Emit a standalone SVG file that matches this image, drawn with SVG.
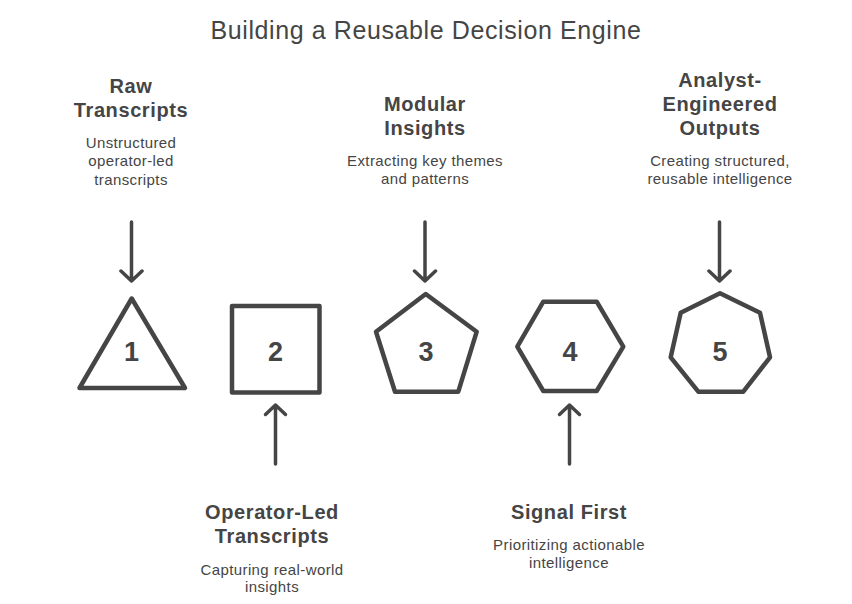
<svg xmlns="http://www.w3.org/2000/svg" width="852" height="604" viewBox="0 0 852 604">
<style>
text{font-family:"Liberation Sans",Arial,sans-serif;fill:#454545;text-anchor:middle}
.title{font-size:25px;letter-spacing:0.6px}
.head{font-size:20px;font-weight:bold;letter-spacing:0.6px}
.desc{font-size:15px;letter-spacing:0.4px}
.num{font-size:27px;font-weight:bold}
.shape{fill:none;stroke:#454545;stroke-width:4.5;stroke-linejoin:round;stroke-linecap:round}
.arrow{fill:none;stroke:#454545;stroke-width:3.5;stroke-linecap:round;stroke-linejoin:round}
</style>
<rect width="852" height="604" fill="#ffffff"/>
<text class="title" x="426" y="39">Building a Reusable Decision Engine</text>
<g id="connectors">
<path class="arrow" d="M131.5 222 V281 M121 271 L131.5 281 L142 271"/>
<path class="arrow" d="M275.5 464 V405 M265.5 414.5 L275.5 405 L285.5 414.5"/>
<path class="arrow" d="M425 222 V281 M414.5 271 L425 281 L435.5 271"/>
<path class="arrow" d="M569.5 464 V405 M559.5 414.5 L569.5 405 L579.5 414.5"/>
<path class="arrow" d="M719.5 222 V281 M709 271 L719.5 281 L730 271"/>
</g>
<g id="node1">
<text class="head" x="131" y="93">Raw</text>
<text class="head" x="131" y="117">Transcripts</text>
<text class="desc" x="131" y="148">Unstructured</text>
<text class="desc" x="131" y="166">operator-led</text>
<text class="desc" x="131" y="185">transcripts</text>
<path class="shape" d="M131.7 298.5 L185 388 L79.5 388 Z"/>
<text class="num" x="131.5" y="361">1</text>
</g>
<g id="node2">
<rect class="shape" x="232" y="306" width="87.5" height="86.5"/>
<text class="num" x="275.5" y="361">2</text>
<text class="head" x="272" y="519">Operator-Led</text>
<text class="head" x="272" y="543">Transcripts</text>
<text class="desc" x="272" y="575">Capturing real-world</text>
<text class="desc" x="272" y="592">insights</text>
</g>
<g id="node3">
<text class="head" x="425" y="111">Modular</text>
<text class="head" x="425" y="135">Insights</text>
<text class="desc" x="425" y="166">Extracting key themes</text>
<text class="desc" x="425" y="184">and patterns</text>
<path class="shape" d="M425.7 294 L476.7 331.7 L458.3 391.7 L395 391.7 L376 331.7 Z"/>
<text class="num" x="426" y="361">3</text>
</g>
<g id="node4">
<path class="shape" d="M517.3 346.7 L543.3 301.7 L596.7 301.7 L623.3 346.7 L596.7 391 L543.3 391 Z"/>
<text class="num" x="570" y="361">4</text>
<text class="head" x="569" y="519">Signal First</text>
<text class="desc" x="569" y="550">Prioritizing actionable</text>
<text class="desc" x="569" y="568">intelligence</text>
</g>
<g id="node5">
<text class="head" x="720" y="87">Analyst-</text>
<text class="head" x="720" y="111">Engineered</text>
<text class="head" x="720" y="135">Outputs</text>
<text class="desc" x="720" y="166">Creating structured,</text>
<text class="desc" x="720" y="184">reusable intelligence</text>
<path class="shape" d="M720 293.3 L760 312.7 L770 357.3 L743.3 391.7 L698.3 391.7 L670.7 357.3 L680.7 312.7 Z"/>
<text class="num" x="720" y="361">5</text>
</g>
</svg>
